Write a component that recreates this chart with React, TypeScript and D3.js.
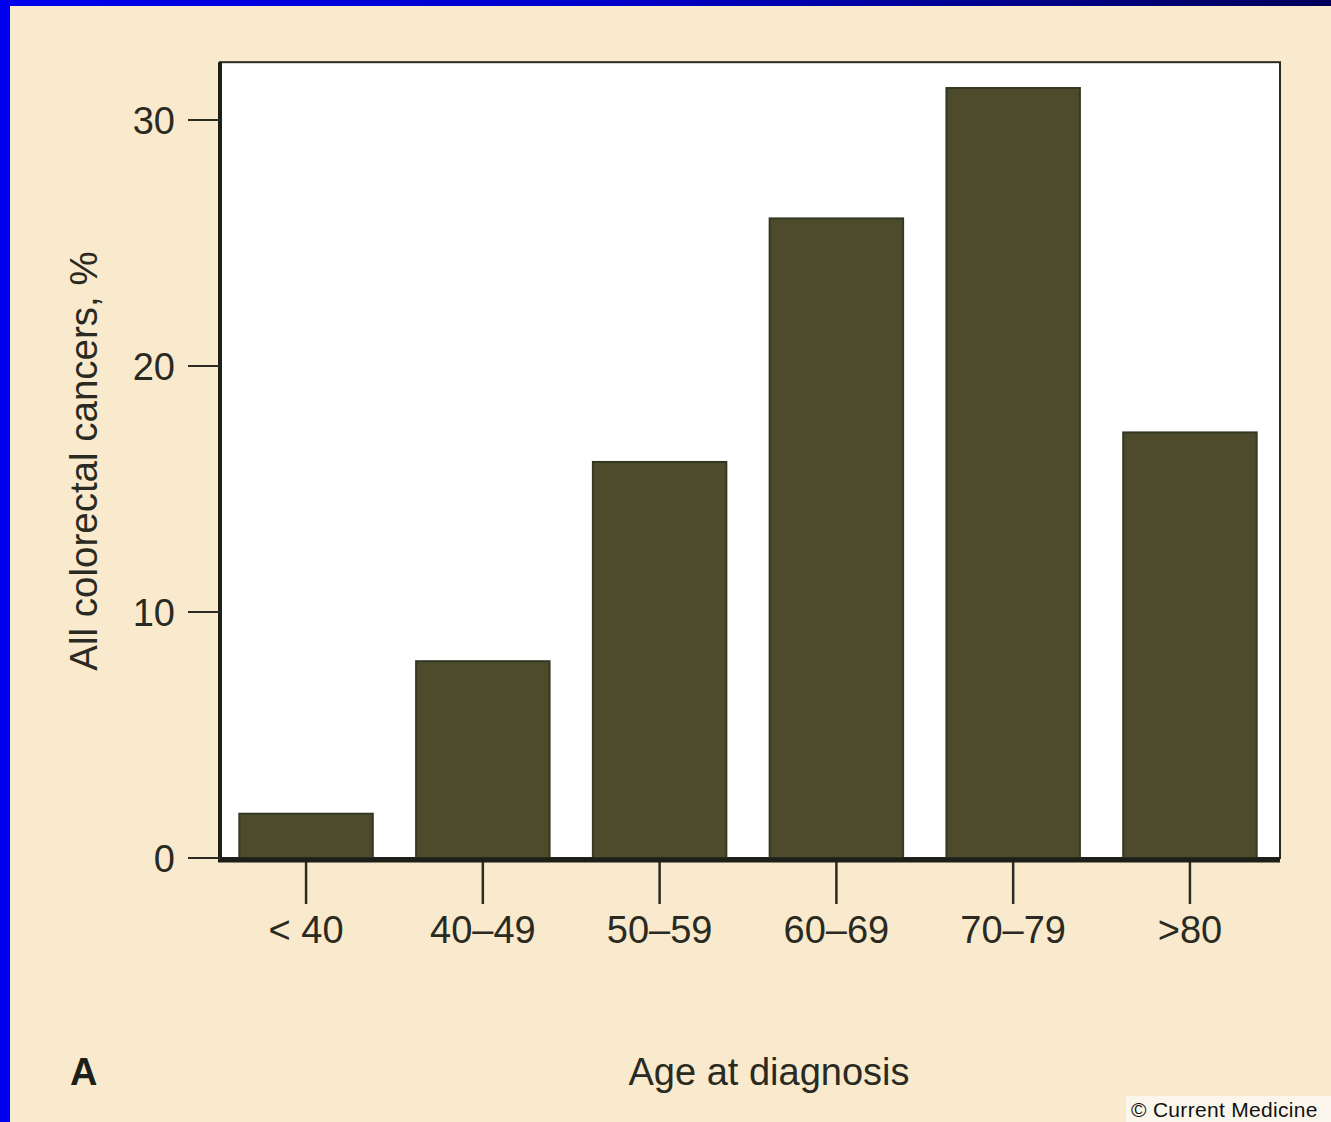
import React from 'react';
import * as d3 from 'd3';

const ageGroups = ['< 40', '40–49', '50–59', '60–69', '70–79', '>80'];
const percentValues = [1.8, 8.0, 16.1, 26.0, 31.3, 17.3];
const yTicks = [0, 10, 20, 30];

const W = 1331;
const H = 1122;

export default function App() {
  const x = d3
    .scaleBand<string>()
    .domain(ageGroups)
    .range([219, 1277])
    .paddingInner(0.245)
    .paddingOuter(0.115);

  const y = d3.scaleLinear().domain([0, 30]).range([858, 120]);
  const yTop = y(32.35);
  const font = 'Liberation Sans, Arial, sans-serif';

  return (
    <svg
      width={W}
      height={H}
      style={{ position: 'absolute', left: 0, top: 0, display: 'block' }}
    >
      <defs>
        <linearGradient id="topBar" x1="0" x2="1" y1="0" y2="0">
          <stop offset="0" stopColor="#0000ee" />
          <stop offset="0.45" stopColor="#0000cc" />
          <stop offset="1" stopColor="#00005a" />
        </linearGradient>
      </defs>
      <rect x={0} y={0} width={W} height={H} fill="#faeacd" />
      <rect x={0} y={0} width={W} height={6} fill="url(#topBar)" />
      <rect x={0} y={0} width={10} height={H} fill="#0000ee" />

      {/* plot area */}
      <rect
        x={220}
        y={yTop}
        width={1060}
        height={y(0) - yTop}
        fill="#ffffff"
        stroke="#2b2b22"
        strokeWidth={2}
      />

      {/* bars */}
      {ageGroups.map((g, i) => (
        <rect
          key={g}
          x={x(g)}
          y={y(percentValues[i])}
          width={x.bandwidth()}
          height={y(0) - y(percentValues[i])}
          fill="#4d4b2c"
          stroke="#323822"
          strokeWidth={2}
        />
      ))}

      {/* axes lines */}
      <line x1={220} x2={220} y1={yTop} y2={y(0) + 3} stroke="#1c1f18" strokeWidth={4} />
      <line x1={218} x2={1280} y1={y(0) + 2} y2={y(0) + 2} stroke="#1c1f18" strokeWidth={5} />

      {/* y ticks */}
      {yTicks.map((t) => (
        <g key={t}>
          <line x1={188} x2={220} y1={y(t)} y2={y(t)} stroke="#2b2b22" strokeWidth={2} />
          <text
            x={175}
            y={y(t)}
            dy="0.36em"
            textAnchor="end"
            fontFamily={font}
            fontSize={38}
            fill="#2a2a22"
          >
            {t}
          </text>
        </g>
      ))}

      {/* x ticks */}
      {ageGroups.map((g) => {
        const cx = (x(g) as number) + x.bandwidth() / 2;
        return (
          <g key={g}>
            <line x1={cx} x2={cx} y1={862} y2={904} stroke="#2b2b22" strokeWidth={2.5} />
            <text
              x={cx}
              y={943}
              textAnchor="middle"
              fontFamily={font}
              fontSize={38}
              fill="#2a2a22"
            >
              {g}
            </text>
          </g>
        );
      })}

      {/* axis titles */}
      <text
        transform="translate(97, 461) rotate(-90)"
        textAnchor="middle"
        fontFamily={font}
        fontSize={38.5}
        fill="#2a2a22"
      >
        All colorectal cancers, %
      </text>
      <text
        x={769}
        y={1085}
        textAnchor="middle"
        fontFamily={font}
        fontSize={38}
        fill="#2a2a22"
      >
        Age at diagnosis
      </text>
      <text x={70} y={1085} fontFamily={font} fontSize={38} fontWeight="bold" fill="#1e1e1a">
        A
      </text>

      {/* credit */}
      <rect x={1126} y={1096} width={W - 1126} height={H - 1096} fill="#fbf6ec" />
      <text
        x={1131}
        y={1117}
        fontFamily={font}
        fontSize={21}
        letterSpacing={0.3}
        fill="#111111"
      >
        © Current Medicine
      </text>
    </svg>
  );
}
